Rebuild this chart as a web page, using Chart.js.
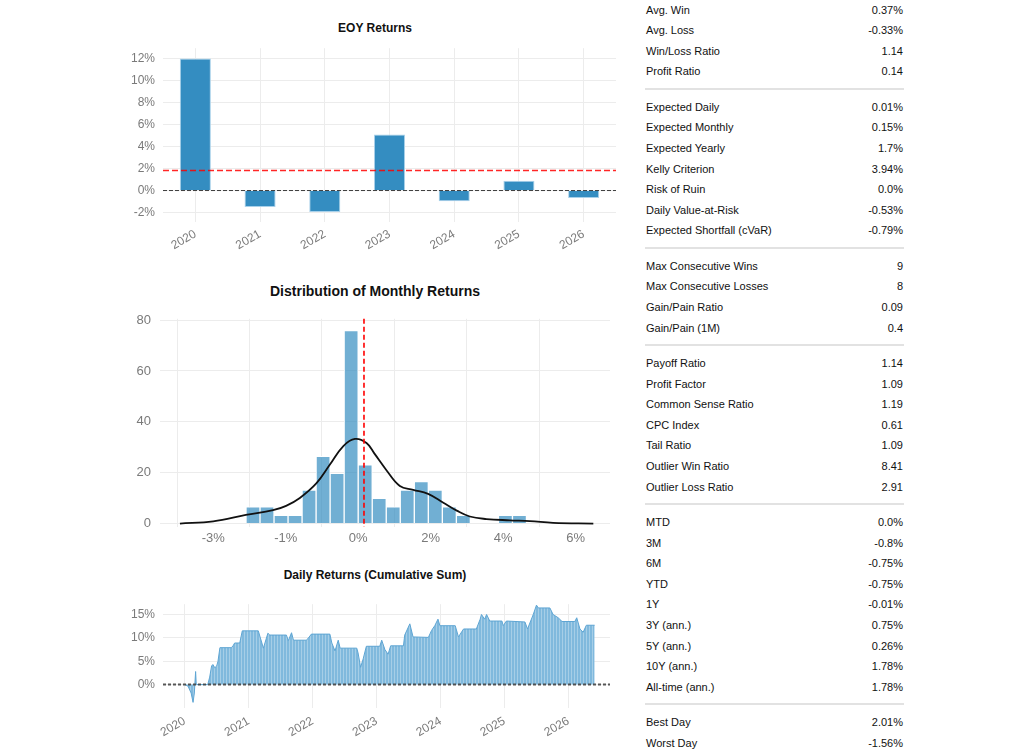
<!DOCTYPE html>
<html>
<head>
<meta charset="utf-8">
<script src="https://cdn.jsdelivr.net/npm/chart.js@4.4.1/dist/chart.umd.min.js"></script>
<style>
    body {
        margin: 0;
        background: #fff;
        width: 1024px;
        height: 753px;
        overflow: hidden;
        position: relative;
        font-family: "Liberation Sans", Arial, sans-serif;
    }
    canvas { position: absolute; }
    .chart-title {
        position: absolute;
        text-align: center;
        font-weight: bold;
        color: #111;
        white-space: nowrap;
    }
    #stats {
        position: absolute;
        left: 645px;
        top: -0.3px;
        width: 259px;
        font-size: 11px;
        color: #111;
    }
    .stat-row {
        height: 20.6px;
        line-height: 20.6px;
        display: flex;
        justify-content: space-between;
        padding: 0 1px 0 1px;
    }
    .stat-sep {
        height: 14.8px;
        position: relative;
    }
    .stat-sep::after {
        content: "";
        position: absolute;
        left: 0;
        right: 0;
        top: 6px;
        height: 2px;
        background: #e2e2e2;
    }
</style>
</head>
<body>

<div class="chart-title" style="left:275px; width:200px; top:21px; font-size:12px; line-height:14px;">EOY Returns</div>
<canvas id="eoy-chart" width="510" height="217" style="left:110px; top:33px;"></canvas>

<div class="chart-title" style="left:225px; width:300px; top:283px; font-size:14px; line-height:16px;">Distribution of Monthly Returns</div>
<canvas id="hist-chart" width="504" height="247" style="left:110px; top:302px;"></canvas>

<div class="chart-title" style="left:225px; width:300px; top:568px; font-size:12px; line-height:14px;">Daily Returns (Cumulative Sum)</div>
<canvas id="daily-chart" width="504" height="159" style="left:110px; top:589px;"></canvas>

<div id="stats"></div>

<script>
// ==================== DONNÉES ====================
const eoyYears = ["2020", "2021", "2022", "2023", "2024", "2025", "2026"];
const eoyReturns = [12.0, -1.5, -1.95, 5.09, -0.97, 0.88, -0.68];
const eoyMean = 1.83;
const eoyTicks = [-2, 0, 2, 4, 6, 8, 10, 12];

const histBinCenters = [-2.903, -2.516, -2.129, -1.742, -1.355, -0.968, -0.581, -0.194, 0.194, 0.581,
                        0.968, 1.355, 1.742, 2.129, 2.516, 2.903, 3.290, 3.677, 4.064, 4.451];
const histCounts = [6.6, 6.6, 3.3, 3.3, 13.2, 26.4, 19.8, 75.9, 23.1, 9.9,
                    6.6, 13.2, 16.5, 13.2, 6.6, 3.3, 0, 0, 3.3, 3.3];
const kdeX = [-4.92, -4.0, -3.10, -2.35, -1.99, -1.61, -1.15, -0.78, -0.41, -0.09, 0.23, 0.45,
              0.78, 1.15, 1.52, 1.93, 2.35, 2.72, 3.08, 3.54, 4.18, 4.74, 5.38, 6.49];
const kdeY = [0, 0.9, 3.4, 5.3, 7.0, 10.1, 15.9, 23.2, 30.5, 33.3, 31.7, 27.5,
              21.0, 14.8, 13.3, 11.7, 8.2, 5.1, 2.8, 1.8, 1.3, 1.0, 0.3, 0];
const monthlyMean = 0.16;
const histTickValues = [-4, -2, 0, 2, 4, 6];
const histTickLabels = ["-3%", "-1%", "0%", "2%", "4%", "6%"];
const histYTicks = [0, 20, 40, 60, 80];

const dailyDates = [2020.00, 2020.05, 2020.10, 2020.13, 2020.15, 2020.17, 2020.18, 2020.36, 2020.39, 2020.42,
                    2020.44, 2020.47, 2020.50, 2020.52, 2020.55, 2020.73, 2020.76, 2020.78, 2020.86, 2020.90,
                    2021.15, 2021.23, 2021.30, 2021.33, 2021.59, 2021.62, 2021.67, 2021.70, 2021.90, 2021.93,
                    2021.98, 2022.27, 2022.30, 2022.35, 2022.40, 2022.43, 2022.69, 2022.71, 2022.75, 2022.79,
                    2022.84, 2023.05, 2023.08, 2023.13, 2023.18, 2023.22, 2023.42, 2023.44, 2023.52, 2023.57,
                    2023.81, 2023.86, 2023.91, 2023.96, 2023.99, 2024.23, 2024.28, 2024.36, 2024.56, 2024.62,
                    2024.64, 2024.69, 2024.72, 2024.77, 2024.96, 2024.98, 2025.03, 2025.32, 2025.36, 2025.45,
                    2025.50, 2025.53, 2025.71, 2025.76, 2025.84, 2025.90, 2026.10, 2026.13, 2026.18, 2026.23,
                    2026.28, 2026.41];
const dailyCumReturns = [0, -0.3, -1.8, -3.8, -1.8, 2.8, 0, 0, 1.6, 4.0,
                         4.3, 3.6, 4.0, 5.0, 7.9, 7.9, 8.4, 8.9, 8.9, 11.5,
                         11.5, 7.8, 11.0, 10.6, 10.6, 9.4, 11.1, 9.5, 9.5, 9.9,
                         10.8, 10.8, 8.9, 7.2, 9.5, 7.8, 7.8, 6.8, 3.7, 5.5,
                         8.2, 8.2, 9.5, 7.5, 6.5, 8.3, 8.3, 10.6, 13.0, 10.2,
                         10.1, 11.6, 12.6, 14.0, 12.6, 12.6, 10.2, 11.9, 11.9, 14.0,
                         15.0, 14.0, 15.0, 13.6, 13.6, 12.6, 13.6, 13.4, 11.9, 15.0,
                         17.0, 16.4, 16.4, 15.0, 14.3, 13.5, 13.5, 14.3, 11.9, 11.2,
                         12.7, 12.7];
const dailyYTicks = [0, 5, 10, 15];
const dailyXTicks = [2020, 2021, 2022, 2023, 2024, 2025, 2026];

const statSections = [
    [["Avg. Win", "0.37%"], ["Avg. Loss", "-0.33%"], ["Win/Loss Ratio", "1.14"], ["Profit Ratio", "0.14"]],
    [["Expected Daily", "0.01%"], ["Expected Monthly", "0.15%"], ["Expected Yearly", "1.7%"],
     ["Kelly Criterion", "3.94%"], ["Risk of Ruin", "0.0%"], ["Daily Value-at-Risk", "-0.53%"],
     ["Expected Shortfall (cVaR)", "-0.79%"]],
    [["Max Consecutive Wins", "9"], ["Max Consecutive Losses", "8"], ["Gain/Pain Ratio", "0.09"],
     ["Gain/Pain (1M)", "0.4"]],
    [["Payoff Ratio", "1.14"], ["Profit Factor", "1.09"], ["Common Sense Ratio", "1.19"],
     ["CPC Index", "0.61"], ["Tail Ratio", "1.09"], ["Outlier Win Ratio", "8.41"],
     ["Outlier Loss Ratio", "2.91"]],
    [["MTD", "0.0%"], ["3M", "-0.8%"], ["6M", "-0.75%"], ["YTD", "-0.75%"], ["1Y", "-0.01%"],
     ["3Y (ann.)", "0.75%"], ["5Y (ann.)", "0.26%"], ["10Y (ann.)", "1.78%"], ["All-time (ann.)", "1.78%"]],
    [["Best Day", "2.01%"], ["Worst Day", "-1.56%"]]
];

// ==================== RÉGLAGES COMMUNS ====================
Chart.defaults.font.family = '"Liberation Sans", Arial, sans-serif';
Chart.defaults.animation = false;
Chart.defaults.plugins.legend.display = false;
Chart.defaults.plugins.tooltip.enabled = false;

const GRID = "#ececec";
const TICK = "#7a7a7a";

// lignes de référence (moyenne, zéro) tracées via les échelles
const refLinesPlugin = {
    id: "refLines",
    afterDatasetsDraw(chart, args, opts) {
        const lines = opts.lines || [];
        const { ctx, chartArea: a, scales } = chart;
        lines.forEach(l => {
            ctx.save();
            ctx.strokeStyle = l.color;
            ctx.lineWidth = l.width || 1;
            ctx.setLineDash(l.dash || []);
            ctx.beginPath();
            if (l.axis === "y") {
                const y = scales.y.getPixelForValue(l.value);
                ctx.moveTo(a.left, y);
                ctx.lineTo(a.right, y);
            } else {
                const x = scales.x.getPixelForValue(l.value);
                ctx.moveTo(x, a.top);
                ctx.lineTo(x, a.bottom);
            }
            ctx.stroke();
            ctx.restore();
        });
    }
};
Chart.register(refLinesPlugin);

function fixedTicks(values) {
    return (scale) => { scale.ticks = values.map(v => ({ value: v })); };
}

// ==================== EOY RETURNS ====================
new Chart(document.getElementById("eoy-chart"), {
    type: "bar",
    data: {
        labels: eoyYears,
        datasets: [{
            data: eoyReturns,
            backgroundColor: "#348dc1",
            borderColor: "#a9d1ea",
            borderWidth: 1,
            categoryPercentage: 1,
            barPercentage: 0.48
        }]
    },
    options: {
        responsive: false,
        layout: { padding: { top: 10, right: 4, left: 0, bottom: 0 } },
        plugins: {
            refLines: {
                lines: [
                    { axis: "y", value: eoyMean, color: "rgba(255,0,0,0.85)", width: 1.5, dash: [6, 3] },
                    { axis: "y", value: 0, color: "rgba(0,0,0,0.75)", width: 1, dash: [4, 2] }
                ]
            }
        },
        scales: {
            x: {
                offset: true,
                grid: { color: GRID, offset: false, drawTicks: false },
                border: { display: false },
                ticks: { color: TICK, font: { size: 12 }, minRotation: 30, maxRotation: 30, padding: 5 },
                afterFit: (s) => { s.height = 28; }
            },
            y: {
                min: -2.86,
                max: 12.94,
                afterBuildTicks: fixedTicks(eoyTicks),
                grid: { color: GRID, drawTicks: false },
                border: { display: false },
                ticks: { color: TICK, font: { size: 12 }, padding: 8, callback: (v) => v + "%" },
                afterFit: (s) => { s.width = 53; }
            }
        }
    }
});

// ==================== DISTRIBUTION OF MONTHLY RETURNS ====================
new Chart(document.getElementById("hist-chart"), {
    type: "bar",
    data: {
        datasets: [
            {
                type: "line",
                data: kdeX.map((x, i) => ({ x: x, y: kdeY[i] })),
                borderColor: "#111",
                borderWidth: 1.8,
                pointRadius: 0,
                tension: 0.4,
                fill: false,
                order: 0
            },
            {
                type: "bar",
                data: histBinCenters.map((x, i) => ({ x: x, y: histCounts[i] })),
                backgroundColor: "rgba(52,141,193,0.7)",
                borderColor: "#ffffff",
                borderWidth: 1,
                categoryPercentage: 1,
                barPercentage: 1,
                order: 1
            }
        ]
    },
    options: {
        responsive: false,
        layout: { padding: { top: 10, right: 4, left: 0, bottom: 0 } },
        plugins: {
            refLines: {
                lines: [
                    { axis: "x", value: monthlyMean, color: "#ff0000", width: 1.6, dash: [5, 3] }
                ]
            }
        },
        scales: {
            x: {
                type: "linear",
                offset: false,
                min: -5.47,
                max: 6.95,
                afterBuildTicks: fixedTicks(histTickValues),
                grid: { color: GRID, drawTicks: false },
                border: { display: false },
                ticks: {
                    color: TICK, font: { size: 13 }, padding: 4,
                    callback: (v) => histTickLabels[histTickValues.indexOf(v)]
                },
                afterFit: (s) => { s.height = 22; }
            },
            y: {
                min: -1.33,
                max: 80.5,
                afterBuildTicks: fixedTicks(histYTicks),
                grid: { color: GRID, drawTicks: false },
                border: { display: false },
                ticks: { color: TICK, font: { size: 13 }, padding: 9 },
                afterFit: (s) => { s.width = 50; }
            }
        }
    }
});

// ==================== DAILY RETURNS (CUMULATIVE SUM) ====================
function stripePattern() {
    const c = document.createElement("canvas");
    c.width = 3;
    c.height = 1;
    const g = c.getContext("2d");
    g.fillStyle = "#80b9dd";
    g.fillRect(0, 0, 2, 1);
    g.fillStyle = "#a6cee7";
    g.fillRect(2, 0, 1, 1);
    return g.createPattern(c, "repeat");
}

new Chart(document.getElementById("daily-chart"), {
    type: "line",
    data: {
        datasets: [{
            data: dailyDates.map((x, i) => ({ x: x, y: dailyCumReturns[i] })),
            borderColor: "#5ea5d3",
            borderWidth: 1,
            backgroundColor: stripePattern(),
            pointRadius: 0,
            tension: 0,
            fill: "origin"
        }]
    },
    options: {
        responsive: false,
        layout: { padding: { top: 10, right: 4, left: 0, bottom: 0 } },
        plugins: {
            refLines: {
                lines: [
                    { axis: "y", value: 0, color: "rgba(60,60,60,0.85)", width: 2, dash: [3, 2] }
                ]
            }
        },
        scales: {
            x: {
                type: "linear",
                min: 2019.66,
                max: 2026.65,
                afterBuildTicks: fixedTicks(dailyXTicks),
                grid: { color: GRID, drawTicks: false },
                border: { display: false },
                ticks: {
                    color: TICK, font: { size: 12 }, minRotation: 30, maxRotation: 30, padding: 6,
                    callback: (v) => String(v)
                },
                afterFit: (s) => { s.height = 40; }
            },
            y: {
                min: -5.0,
                max: 17.2,
                afterBuildTicks: fixedTicks(dailyYTicks),
                grid: { color: GRID, drawTicks: false },
                border: { display: false },
                ticks: { color: TICK, font: { size: 12 }, padding: 8, callback: (v) => v + "%" },
                afterFit: (s) => { s.width = 53; }
            }
        }
    }
});

// ==================== TABLEAU DES MÉTRIQUES ====================
const statsEl = document.getElementById("stats");
statSections.forEach((section, si) => {
    if (si > 0) {
        const sep = document.createElement("div");
        sep.className = "stat-sep";
        statsEl.appendChild(sep);
    }
    section.forEach(([label, value]) => {
        const row = document.createElement("div");
        row.className = "stat-row";
        row.innerHTML = `<span>${label}</span><span>${value}</span>`;
        statsEl.appendChild(row);
    });
});
</script>
</body>
</html>
